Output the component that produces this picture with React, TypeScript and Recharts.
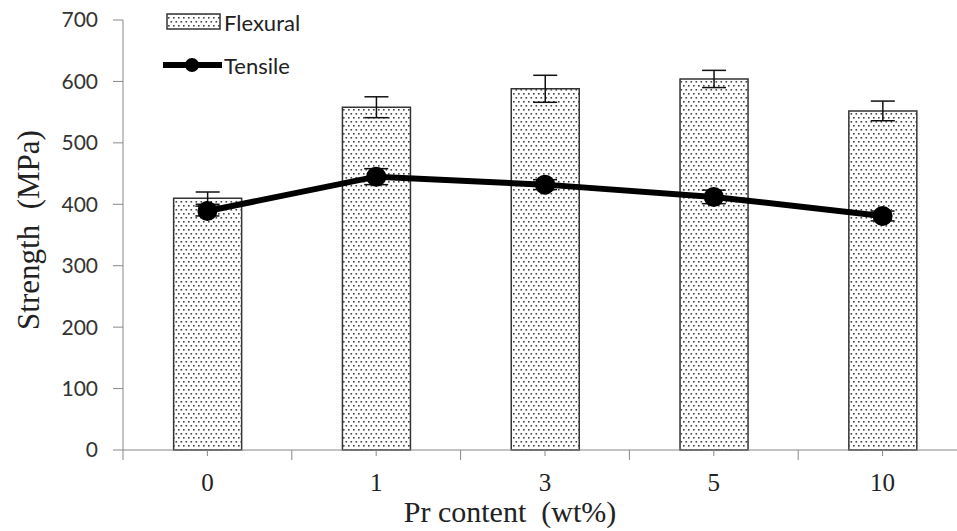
import {
  Bar,
  ComposedChart,
  ErrorBar,
  Label,
  Line,
  XAxis,
  YAxis,
} from "recharts";

const contents = ["0", "1", "3", "5", "10"];
const flexural = [410, 558, 588, 604, 552];
const flexuralErr = [10, 17, 22, 14, 16];
const tensile = [389, 445, 432, 412, 381];
const tensileErr = [8, 13, 8, 11, 8];
const yTicks = [0, 100, 200, 300, 400, 500, 600, 700];

const data = contents.map((c, i) => ({
  content: c,
  flexural: flexural[i],
  flexuralErr: flexuralErr[i],
  tensile: tensile[i],
  tensileErr: tensileErr[i],
}));

const CHART_W = 1000;
const MARGIN = { top: 20, right: 33, left: 43, bottom: 31 };
const Y_AXIS_W = 80;
const PLOT_W = CHART_W - MARGIN.left - MARGIN.right - Y_AXIS_W;
const HALF_STEP = PLOT_W / contents.length / 2;

const SANS = "Lato, 'Open Sans', sans-serif";
const SERIF = "'Liberation Serif', 'Times New Roman', serif";

function Dots({ id }: { id: string }) {
  return (
    <pattern id={id} width={5} height={8} patternUnits="userSpaceOnUse">
      <rect width={5} height={8} fill="#fff" />
      <rect x={0.5} y={1} width={1.6} height={1.6} fill="#444" />
      <rect x={3} y={5} width={1.6} height={1.6} fill="#444" />
    </pattern>
  );
}

function XTick(props: any) {
  const { x, y, payload } = props;
  return (
    <g>
      <line x1={x} y1={y} x2={x} y2={y + 6} stroke="#888" />
      <line x1={x + HALF_STEP} y1={y} x2={x + HALF_STEP} y2={y + 10} stroke="#888" />
      {payload.index === 0 && (
        <line x1={x - HALF_STEP} y1={y} x2={x - HALF_STEP} y2={y + 10} stroke="#888" />
      )}
      <text
        x={x}
        y={y + 41}
        textAnchor="middle"
        fontFamily={SERIF}
        fontSize={25}
        fill="#222"
      >
        {payload.value}
      </text>
    </g>
  );
}

function XTitle(props: any) {
  const { x, y, width, height } = props.viewBox;
  return (
    <text
      x={x + width / 2 - 35}
      y={y + height + 22}
      textAnchor="middle"
      fontFamily={SERIF}
      fontSize={30}
      fill="#222"
    >
      {"Pr content\u00a0 (wt%)"}
    </text>
  );
}

function YTitle(props: any) {
  const { y, height } = props.viewBox;
  const cx = 28;
  const cy = y + height / 2 - 5;
  return (
    <text
      x={cx}
      y={cy}
      transform={`rotate(-90 ${cx} ${cy})`}
      textAnchor="middle"
      dominantBaseline="central"
      fontFamily={SERIF}
      fontSize={31}
      fill="#222"
    >
      {"Strength\u00a0 (MPa)"}
    </text>
  );
}

function ChartLegend() {
  return (
    <div
      style={{
        position: "absolute",
        left: 160,
        top: 1,
        fontFamily: SANS,
        fontSize: 22,
        color: "#222",
      }}
    >
      <div style={{ display: "flex", alignItems: "center", height: 42 }}>
        <svg width={64} height={20}>
          <defs>
            <Dots id="legendDots" />
          </defs>
          <rect x={7} y={2} width={53} height={15} fill="url(#legendDots)" stroke="#333" strokeWidth={1.5} />
        </svg>
        <span>Flexural</span>
      </div>
      <div style={{ display: "flex", alignItems: "center", height: 44 }}>
        <svg width={64} height={20}>
          <line x1={3} y1={10} x2={62} y2={10} stroke="#000" strokeWidth={6} />
          <circle cx={32} cy={10} r={7} fill="#000" />
        </svg>
        <span>Tensile</span>
      </div>
    </div>
  );
}

export default function App() {
  return (
    <div
      style={{
        position: "absolute",
        left: 0,
        top: 0,
        width: 957,
        height: 531,
        overflow: "hidden",
        background: "#fff",
      }}
    >
      <ComposedChart width={CHART_W} height={531} data={data} margin={MARGIN} barCategoryGap="30%">
        <defs>
          <Dots id="barDots" />
        </defs>
        <XAxis
          dataKey="content"
          height={50}
          stroke="#888"
          tickLine={false}
          tickSize={0}
          tickMargin={0}
          tick={<XTick />}
          interval={0}
        >
          <Label content={<XTitle />} />
        </XAxis>
        <YAxis
          width={Y_AXIS_W}
          domain={[0, 700]}
          ticks={yTicks}
          stroke="#888"
          tickSize={10}
          tickMargin={15}
          tick={{ fontFamily: SANS, fontSize: 21, fill: "#333" }}
        >
          <Label content={<YTitle />} />
        </YAxis>
        <Bar
          dataKey="flexural"
          fill="url(#barDots)"
          stroke="#333"
          strokeWidth={1.5}
          isAnimationActive={false}
        >
          <ErrorBar dataKey="flexuralErr" width={12} stroke="#111" strokeWidth={1.5} />
        </Bar>
        <Line
          dataKey="tensile"
          type="linear"
          stroke="#000"
          strokeWidth={6}
          dot={{ r: 7, fill: "#000", stroke: "#000" }}
          isAnimationActive={false}
        >
          <ErrorBar dataKey="tensileErr" width={12} stroke="#111" strokeWidth={1.5} />
        </Line>
      </ComposedChart>
      <ChartLegend />
    </div>
  );
}
